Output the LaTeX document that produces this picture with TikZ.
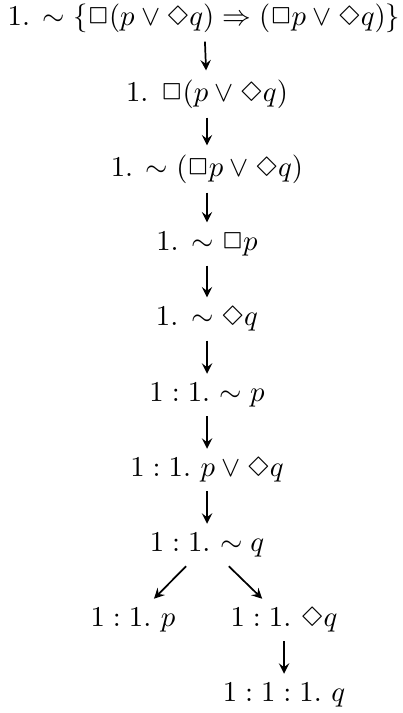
\documentclass[tikz,border=0pt]{standalone}
\usepackage{latexsym}
\usetikzlibrary{arrows}
\begin{document}
\begin{tikzpicture}[x=0.348pt, y=-0.348pt,
  every node/.style={inner sep=3pt},
  link/.style={-stealth, semithick}]
\useasboundingbox (0,0) rectangle (403,713);
% main trunk
\node (n1) at (204,18)  {1. $\sim\{\Box(p\vee\Diamond q)\Rightarrow(\Box p\vee\Diamond q)\}$};
\node (n2) at (207,94)  {1. $\Box(p\vee\Diamond q)$};
\node (n3) at (207,169) {1. $\sim(\Box p\vee\Diamond q)$};
\node (n4) at (207,244) {1. $\sim\Box p$};
\node (n5) at (207,319) {1. $\sim\Diamond q$};
\node (n6) at (207,395) {$1:1.$ $\sim p$};
\node (n7) at (207,470) {$1:1.$ $p\vee\Diamond q$};
\node (n8) at (207,545) {$1:1.$ $\sim q$};
% branches
\node (n9)  at (133,620) {$1:1.$ $p$};
\node (n10) at (284,620) {$1:1.$ $\Diamond q$};
\node (n11) at (284,695) {$1:1:1.$ $q$};
\draw[link] (n1) -- (n2);
\draw[link] (n2) -- (n3);
\draw[link] (n3) -- (n4);
\draw[link] (n4) -- (n5);
\draw[link] (n5) -- (n6);
\draw[link] (n6) -- (n7);
\draw[link] (n7) -- (n8);
\draw[link] (n8) -- (n9);
\draw[link] (n8) -- (n10);
\draw[link] (n10) -- (n11);
\end{tikzpicture}
\end{document}
